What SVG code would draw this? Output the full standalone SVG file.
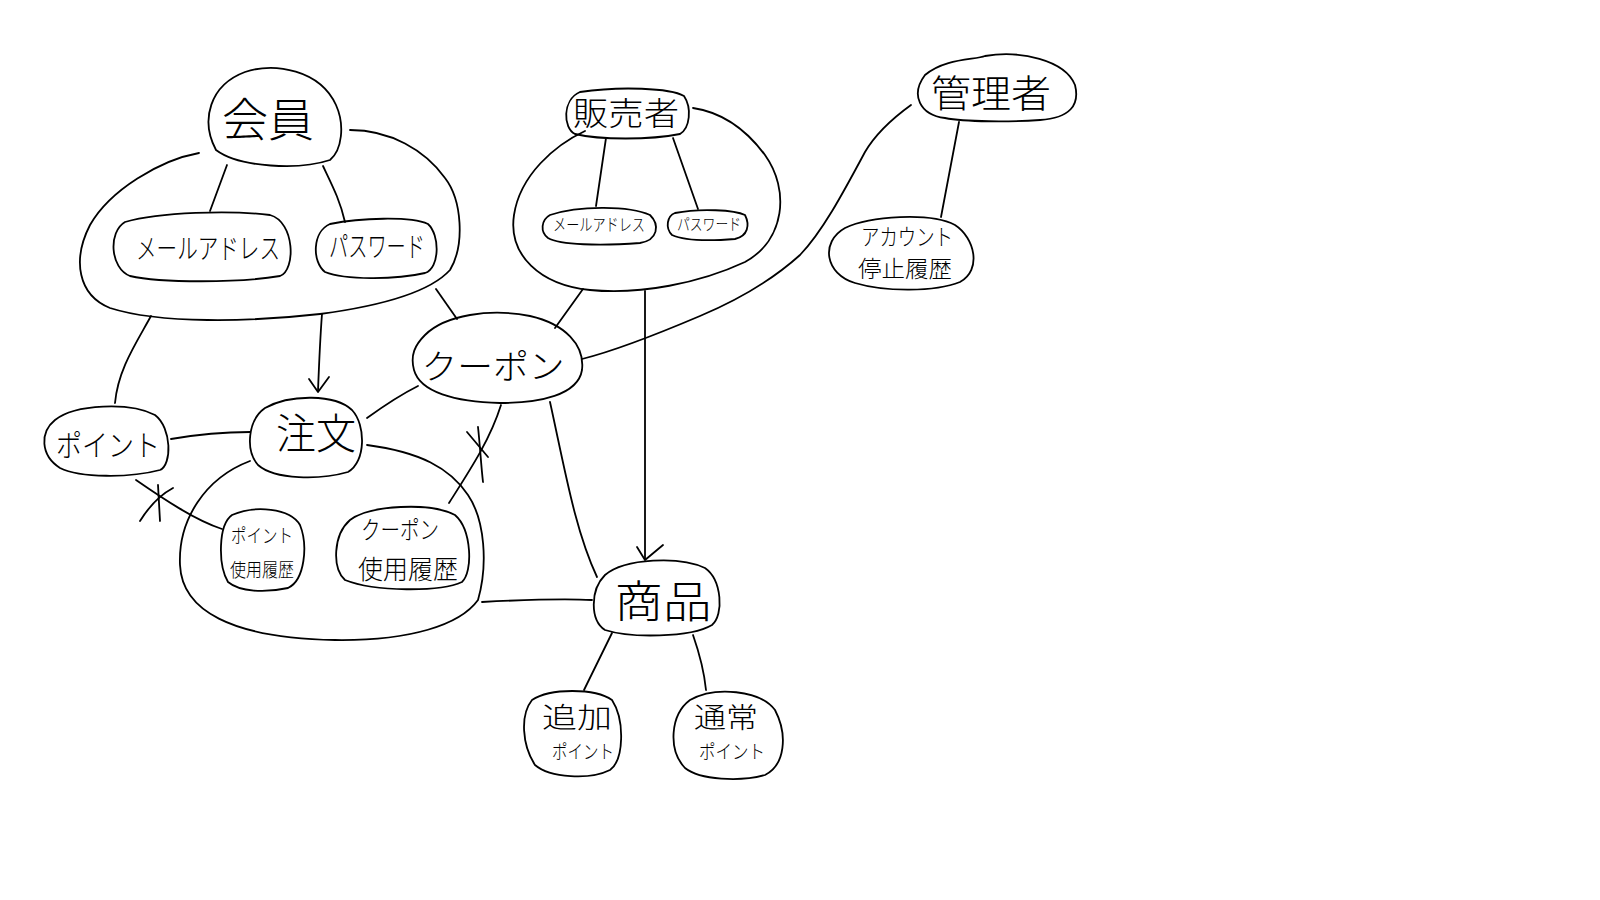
<svg xmlns="http://www.w3.org/2000/svg" width="1600" height="900" viewBox="0 0 1600 900">
  <style>
    .ln { fill: none; stroke: #000; stroke-width: 1.8; stroke-linecap: round; stroke-linejoin: round; }
    .t { font-family: "Noto Sans CJK JP", "Noto Sans", sans-serif; font-weight: 300; fill: #000; text-anchor: middle; }
  </style>
  <rect width="1600" height="900" fill="#fff"/>

  <!-- connectors -->
  <g id="connectors">
    <!-- member -->
    <path class="ln" d="M227,165 L210,211"/>
    <path class="ln" d="M323,166 C332,185 340,200 345,222"/>
    <path class="ln" d="M436,289 L457,319"/>
    <path class="ln" d="M151,316 C135,345 118,370 115,403"/>
    <path class="ln" d="M322,314 C320,340 319,365 318,391"/>
    <path class="ln" d="M309,379 L318,392 L329,377"/>
    <!-- order -->
    <path class="ln" d="M171,439 C200,434 225,432 250,432"/>
    <path class="ln" d="M367,418 C385,405 400,395 418,386"/>
    <path class="ln" d="M136,480 C165,500 195,520 222,529"/>
    <path class="ln" d="M140,521 C150,505 160,495 173,488"/>
    <path class="ln" d="M158,485 L160,521"/>
    <path class="ln" d="M501,405 C490,440 470,470 449,503"/>
    <path class="ln" d="M467,432 L488,457"/>
    <path class="ln" d="M478,427 C480,445 481,465 483,482"/>
    <path class="ln" d="M482,602 C520,600 560,598 592,600"/>
    <!-- coupon -->
    <path class="ln" d="M550,402 C565,470 575,530 597,577"/>
    <!-- seller -->
    <path class="ln" d="M606,138 L596,206"/>
    <path class="ln" d="M673,138 L698,209"/>
    <path class="ln" d="M583,289 L555,328"/>
    <path class="ln" d="M645,291 L645,559"/>
    <path class="ln" d="M637,547 L645,560 L663,545"/>
    <!-- admin -->
    <path class="ln" d="M911,105 C893,118 875,135 865,152 C842,195 822,232 800,255 C770,282 738,300 700,316 C660,333 618,350 582,359"/>
    <path class="ln" d="M959,122 L941,217"/>
    <!-- product -->
    <path class="ln" d="M612,633 L584,690"/>
    <path class="ln" d="M693,635 C700,655 704,670 706,690"/>
  </g>

  <!-- member enclosure -->
  <g id="member-group">
    <path class="ln" d="M199,153 C160,160 110,190 90,225 C72,260 78,295 110,308 C160,324 250,322 320,314 C380,306 430,292 450,270 C465,245 462,200 445,178 C425,150 390,130 350,130"/>
  </g>
  <g id="member">
    <path class="ln" d="M216,150 C200,120 210,85 245,72 C275,62 320,70 336,105 C345,125 342,150 330,160 C300,170 240,168 216,150 Z"/>
    <text class="t" x="268" y="136" font-size="46" textLength="92" lengthAdjust="spacingAndGlyphs">会員</text>
  </g>
  <g id="member-mail">
    <path class="ln" d="M125,222 C160,212 230,210 270,215 C295,222 296,270 280,276 C240,283 160,283 130,276 C110,268 108,232 125,222 Z"/>
    <text class="t" x="208" y="259" font-size="28" textLength="144" lengthAdjust="spacingAndGlyphs">メールアドレス</text>
  </g>
  <g id="member-password">
    <path class="ln" d="M330,224 C360,218 410,216 428,224 C440,235 440,268 425,273 C395,280 345,280 325,272 C312,262 312,232 330,224 Z"/>
    <text class="t" x="377" y="257" font-size="28" textLength="96" lengthAdjust="spacingAndGlyphs">パスワード</text>
  </g>

  <!-- seller enclosure -->
  <g id="seller-group">
    <path class="ln" d="M585,131 C555,145 520,175 514,215 C508,255 540,285 590,290 C640,295 700,283 745,262 C785,240 790,190 765,155 C745,128 720,112 693,108"/>
  </g>
  <g id="seller">
    <path class="ln" d="M580,92 C620,86 670,88 684,96 C692,108 690,128 680,134 C650,140 600,140 575,134 C563,128 562,100 580,92 Z"/>
    <text class="t" x="626" y="125" font-size="32" textLength="106" lengthAdjust="spacingAndGlyphs">販売者</text>
  </g>
  <g id="seller-mail">
    <path class="ln" d="M550,215 C580,205 630,206 650,215 C660,225 658,240 640,243 C600,246 560,245 548,238 C540,232 541,220 550,215 Z"/>
    <text class="t" x="599" y="231" font-size="17" textLength="92" lengthAdjust="spacingAndGlyphs">メールアドレス</text>
  </g>
  <g id="seller-password">
    <path class="ln" d="M675,213 C700,208 735,210 745,215 C750,225 748,236 735,239 C710,241 685,241 672,235 C665,228 667,216 675,213 Z"/>
    <text class="t" x="709" y="230" font-size="16" textLength="64" lengthAdjust="spacingAndGlyphs">パスワード</text>
  </g>

  <!-- admin -->
  <g id="admin">
    <path class="ln" d="M925,75 C945,58 975,60 985,56 C1020,50 1065,60 1075,85 C1080,105 1070,118 1040,120 C1010,122 965,122 945,118 C920,115 910,95 925,75 Z"/>
    <text class="t" x="991" y="107" font-size="38" textLength="120" lengthAdjust="spacingAndGlyphs">管理者</text>
  </g>
  <g id="account-suspension">
    <path class="ln" d="M845,228 C870,216 930,212 955,225 C975,238 982,270 960,282 C935,292 885,292 855,283 C825,274 820,242 845,228 Z"/>
    <text class="t" x="907" y="245" font-size="23" textLength="92" lengthAdjust="spacingAndGlyphs">アカウント</text>
    <text class="t" x="905" y="277" font-size="23" textLength="94" lengthAdjust="spacingAndGlyphs">停止履歴</text>
  </g>

  <!-- coupon -->
  <g id="coupon">
    <path class="ln" d="M425,335 C445,315 490,308 530,316 C565,324 585,345 582,370 C578,395 540,403 500,403 C455,402 420,392 414,370 C410,355 415,345 425,335 Z"/>
    <text class="t" x="493" y="379" font-size="34" textLength="143" lengthAdjust="spacingAndGlyphs">クーポン</text>
  </g>

  <!-- point -->
  <g id="point">
    <path class="ln" d="M55,420 C75,404 130,402 155,415 C172,428 172,465 160,470 C130,478 80,478 60,468 C40,455 40,432 55,420 Z"/>
    <text class="t" x="108" y="456" font-size="30" textLength="104" lengthAdjust="spacingAndGlyphs">ポイント</text>
  </g>

  <!-- order -->
  <g id="order-group">
    <path class="ln" d="M250,461 C205,478 178,520 180,565 C182,610 230,638 335,640 C410,641 460,625 478,600 C488,565 485,520 468,495 C450,468 420,452 367,445"/>
  </g>
  <g id="order">
    <path class="ln" d="M265,408 C290,394 335,394 352,410 C366,425 366,462 348,472 C320,480 275,480 258,465 C245,450 248,420 265,408 Z"/>
    <text class="t" x="316" y="449" font-size="42" textLength="80" lengthAdjust="spacingAndGlyphs">注文</text>
  </g>
  <g id="point-history">
    <path class="ln" d="M232,515 C255,505 290,508 300,525 C308,545 305,580 288,588 C265,593 240,592 228,582 C218,565 218,525 232,515 Z"/>
    <text class="t" x="262" y="543" font-size="19" textLength="62" lengthAdjust="spacingAndGlyphs">ポイント</text>
    <text class="t" x="262" y="577" font-size="19" textLength="64" lengthAdjust="spacingAndGlyphs">使用履歴</text>
  </g>
  <g id="coupon-history">
    <path class="ln" d="M350,520 C370,505 430,502 455,515 C472,530 473,572 462,582 C440,592 375,592 345,580 C332,568 333,535 350,520 Z"/>
    <text class="t" x="400" y="539" font-size="25" textLength="78" lengthAdjust="spacingAndGlyphs">クーポン</text>
    <text class="t" x="408" y="579" font-size="26" textLength="100" lengthAdjust="spacingAndGlyphs">使用履歴</text>
  </g>

  <!-- product -->
  <g id="product">
    <path class="ln" d="M605,575 C625,558 680,556 705,568 C722,580 724,615 712,625 C690,638 630,638 605,630 C590,620 590,590 605,575 Z"/>
    <text class="t" x="663" y="618" font-size="44" textLength="97" lengthAdjust="spacingAndGlyphs">商品</text>
  </g>
  <g id="bonus-point">
    <path class="ln" d="M532,700 C550,688 595,688 612,700 C625,720 624,760 610,770 C590,780 550,778 535,765 C522,745 520,715 532,700 Z"/>
    <text class="t" x="577" y="728" font-size="28" textLength="70" lengthAdjust="spacingAndGlyphs">追加</text>
    <text class="t" x="583" y="759" font-size="19" textLength="62" lengthAdjust="spacingAndGlyphs">ポイント</text>
  </g>
  <g id="regular-point">
    <path class="ln" d="M690,700 C715,686 760,690 775,710 C788,735 785,765 765,775 C740,782 700,780 685,768 C668,750 670,715 690,700 Z"/>
    <text class="t" x="726" y="728" font-size="28" textLength="64" lengthAdjust="spacingAndGlyphs">通常</text>
    <text class="t" x="732" y="759" font-size="19" textLength="66" lengthAdjust="spacingAndGlyphs">ポイント</text>
  </g>
</svg>
